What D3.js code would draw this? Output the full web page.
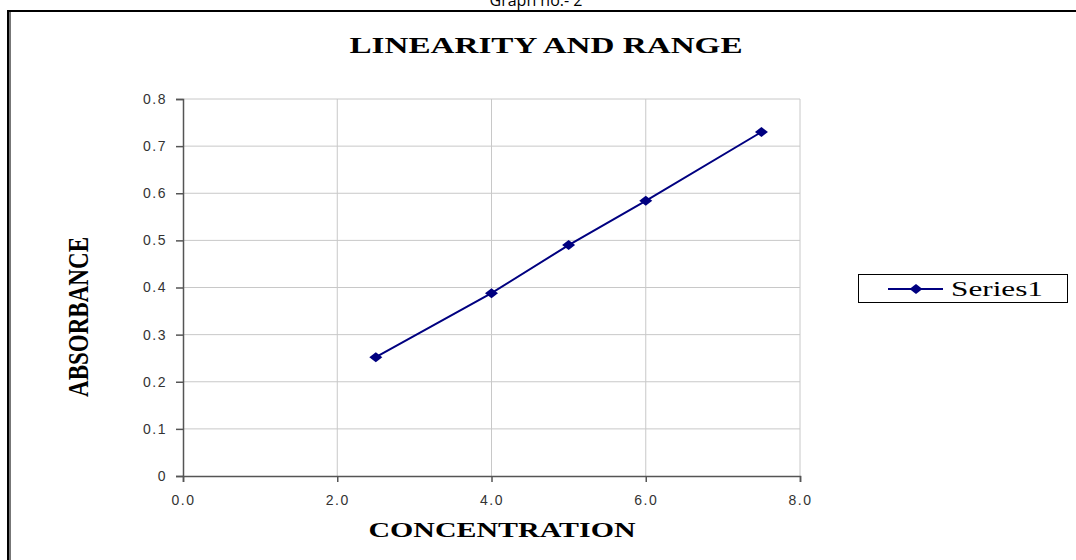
<!DOCTYPE html>
<html>
<head>
<meta charset="utf-8">
<script src="https://cdn.jsdelivr.net/npm/d3@7"></script>
<style>
  body { margin: 0; background: #fff; }
  svg { display: block; }
</style>
</head>
<body>
<svg id="chart"></svg>
<script>
// data
const concentration = [2.5, 4.0, 5.0, 6.0, 7.5];
const absorbance = [0.252, 0.388, 0.490, 0.584, 0.730];
const xTicks = [0, 2, 4, 6, 8];
const yTicks = [0, 0.1, 0.2, 0.3, 0.4, 0.5, 0.6, 0.7, 0.8];
const seriesName = "Series1";

class LineChart {
    margin = { top: 99, right: 276, bottom: 84, left: 183 }

    constructor(svg, width = 1076, height = 560) {
        this.svg = svg;
        this.width = width;
        this.height = height;
    }

    initialize() {
        this.svg = d3.select(this.svg)
            .attr("width", this.width)
            .attr("height", this.height);

        this.innerW = this.width - this.margin.left - this.margin.right;
        this.innerH = this.height - this.margin.top - this.margin.bottom;

        this.container = this.svg.append("g")
            .attr("transform", `translate(${this.margin.left}, ${this.margin.top})`);

        this.xScale = d3.scaleLinear().domain([0, 8]).range([0, this.innerW]);
        this.yScale = d3.scaleLinear().domain([0, 0.8]).range([this.innerH, 0]);

        // page frame
        this.svg.append("line").attr("x1", 8).attr("x2", 8).attr("y1", 10).attr("y2", 560)
            .attr("stroke", "#000").attr("stroke-width", 2);
        this.svg.append("line").attr("x1", 10).attr("x2", 10).attr("y1", 12).attr("y2", 560)
            .attr("stroke", "#777").attr("stroke-width", 2);
        this.svg.append("line").attr("x1", 7).attr("x2", 1076).attr("y1", 11).attr("y2", 11)
            .attr("stroke", "#000").attr("stroke-width", 2);

        // page caption, cut by the top edge as in the source
        this.svg.append("text")
            .attr("x", 536).attr("y", 6)
            .attr("text-anchor", "middle")
            .style("font-family", "Open Sans")
            .style("font-size", "16px")
            .text("Graph no.- 2");
    }

    update() {
        const x = this.xScale, y = this.yScale;

        // grid
        this.container.append("g").selectAll("line")
            .data(yTicks.slice(1))
            .join("line")
            .attr("x1", 0).attr("x2", this.innerW)
            .attr("y1", d => y(d)).attr("y2", d => y(d))
            .attr("stroke", "#c8c8c8").attr("stroke-width", 1);
        this.container.append("g").selectAll("line")
            .data(xTicks.slice(1))
            .join("line")
            .attr("x1", d => x(d)).attr("x2", d => x(d))
            .attr("y1", 0).attr("y2", this.innerH)
            .attr("stroke", "#c8c8c8").attr("stroke-width", 1);

        // axes
        const yAxis = this.container.append("g")
            .call(d3.axisLeft(y).tickValues(yTicks).tickSize(7).tickPadding(9)
                .tickFormat(d => d === 0 ? "0" : d3.format(".1f")(d)));
        const xAxis = this.container.append("g")
            .attr("transform", `translate(0, ${this.innerH})`)
            .call(d3.axisBottom(x).tickValues(xTicks).tickSize(6).tickPadding(13)
                .tickFormat(d3.format(".1f")));
        [xAxis, yAxis].forEach(a => {
            a.select(".domain").attr("stroke", "#555").attr("stroke-width", 1.5);
            a.selectAll(".tick line").attr("stroke", "#555").attr("stroke-width", 1.5);
            a.selectAll("text")
                .style("font-family", "Liberation Sans")
                .style("font-size", "14px")
                .style("letter-spacing", "1.5px")
                .attr("fill", "#333");
        });

        // series
        const line = d3.line().x((d, i) => x(concentration[i])).y(d => y(d));
        this.container.append("path")
            .datum(absorbance)
            .attr("d", line)
            .attr("fill", "none")
            .attr("stroke", "#000080")
            .attr("stroke-width", 2);

        const diamond = "M-6.5,0L0,-5L6.5,0L0,5Z";
        this.container.selectAll(".pt")
            .data(absorbance)
            .join("path")
            .attr("class", "pt")
            .attr("d", diamond)
            .attr("transform", (d, i) => `translate(${x(concentration[i])}, ${y(d)})`)
            .attr("fill", "#000080");

        // titles
        const serif = "Liberation Serif";
        this.svg.append("text")
            .attr("x", 546).attr("y", 53)
            .attr("text-anchor", "middle")
            .attr("textLength", 393).attr("lengthAdjust", "spacingAndGlyphs")
            .style("font-family", serif).style("font-weight", "bold").style("font-size", "24px")
            .text("LINEARITY AND RANGE");

        this.svg.append("text")
            .attr("x", 502).attr("y", 537)
            .attr("text-anchor", "middle")
            .attr("textLength", 267).attr("lengthAdjust", "spacingAndGlyphs")
            .style("font-family", serif).style("font-weight", "bold").style("font-size", "22px")
            .text("CONCENTRATION");

        this.svg.append("text")
            .attr("transform", "translate(88, 317) scale(1.25, 1) rotate(-90)")
            .attr("text-anchor", "middle")
            .attr("textLength", 160).attr("lengthAdjust", "spacingAndGlyphs")
            .style("font-family", serif).style("font-weight", "bold").style("font-size", "23px")
            .text("ABSORBANCE");

        // legend
        const lg = this.svg.append("g");
        lg.append("rect")
            .attr("x", 858.5).attr("y", 274.5).attr("width", 209).attr("height", 28)
            .attr("fill", "#fff").attr("stroke", "#000").attr("stroke-width", 1);
        lg.append("line")
            .attr("x1", 888).attr("x2", 943).attr("y1", 289).attr("y2", 289)
            .attr("stroke", "#000080").attr("stroke-width", 2);
        lg.append("path")
            .attr("d", diamond)
            .attr("transform", "translate(916, 289)")
            .attr("fill", "#000080");
        lg.append("text")
            .attr("x", 951).attr("y", 296)
            .attr("textLength", 92).attr("lengthAdjust", "spacingAndGlyphs")
            .style("font-family", serif).style("font-size", "20px")
            .text(seriesName);
    }
}

const chart = new LineChart(document.getElementById("chart"));
chart.initialize();
chart.update();
</script>
</body>
</html>
